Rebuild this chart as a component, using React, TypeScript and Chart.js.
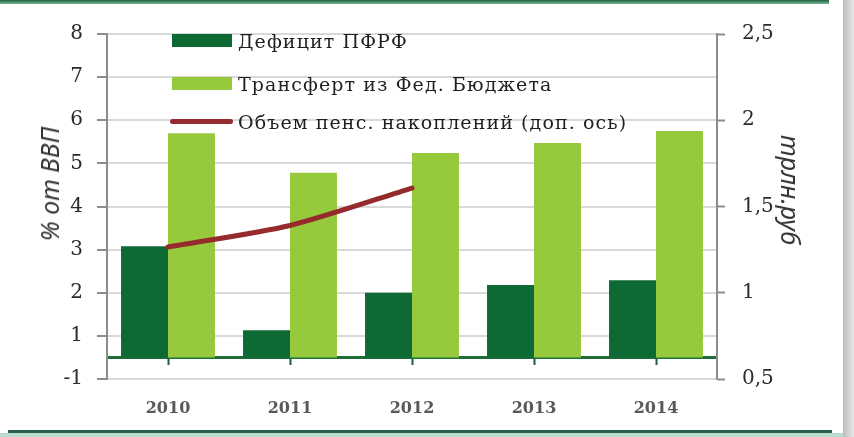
import React, { useEffect, useRef } from 'react';
import { Chart, registerables, LinearScale } from 'chart.js';

const CATEGORIES = ['2010', '2011', '2012', '2013', '2014'];
const DEFICIT = [3.08, 1.13, 2.0, 2.18, 2.29];
const TRANSFER = [5.7, 4.78, 5.24, 5.47, 5.75];
const PENSION_SAVINGS = [1.265, 1.39, 1.607, null, null];
const LEFT_TICKS = [-1, 1, 2, 3, 4, 5, 6, 7, 8];
const RIGHT_TICKS = [0.5, 1, 1.5, 2, 2.5];
const LEGEND_LABELS = ['Дефицит ПФРФ', 'Трансферт из Фед. Бюджета', 'Объем пенс. накоплений (доп. ось)'];
const LEFT_TITLE = '% от ВВП';
const RIGHT_TITLE = 'трлн.руб';

const DARK = '#0d6a34';
const LIGHT = '#97c93c';
const RED = '#962b2e';
const BREAK = 1;

function compress(v: number, min: number) {
  return v >= BREAK ? v - BREAK + 1 : (v - min) / (BREAK - min);
}

class BrokenScale extends LinearScale {
  static id = 'broken';
  static defaults = LinearScale.defaults;
  getPixelForValue(value: any) {
    if (value === null || value === undefined || isNaN(value)) return NaN;
    const min = (this as any).min;
    const max = (this as any).max;
    return this.getPixelForDecimal(compress(value, min) / compress(max, min));
  }
  getValueForPixel(pixel: number) {
    const min = (this as any).min;
    const max = (this as any).max;
    const t = this.getDecimalForPixel(pixel) * compress(max, min);
    return t >= 1 ? t + BREAK - 1 : min + t * (BREAK - min);
  }
}

Chart.register(...registerables, BrokenScale as any);

export default function App() {
  const ref = useRef<HTMLCanvasElement | null>(null);
  useEffect(() => {
    if (!ref.current) return;
    const tickFont = { family: 'DejaVu Serif', size: 20 };
    const chart = new Chart(ref.current, {
      type: 'bar',
      data: {
        labels: CATEGORIES,
        datasets: [
          {
            type: 'line',
            label: LEGEND_LABELS[2],
            data: PENSION_SAVINGS,
            yAxisID: 'y1',
            xAxisID: 'x',
            borderColor: RED,
            borderWidth: 5,
            pointRadius: 0,
            tension: 0.25,
            borderCapStyle: 'round',
            order: 0,
          } as any,
          {
            type: 'bar',
            label: LEGEND_LABELS[0],
            data: DEFICIT,
            yAxisID: 'y',
            xAxisID: 'x',
            backgroundColor: DARK,
            barPercentage: 1,
            categoryPercentage: 0.77,
            order: 1,
          },
          {
            type: 'bar',
            label: LEGEND_LABELS[1],
            data: TRANSFER,
            yAxisID: 'y',
            xAxisID: 'x',
            backgroundColor: LIGHT,
            barPercentage: 1,
            categoryPercentage: 0.77,
            order: 2,
          },
        ],
      },
      options: {
        responsive: false,
        maintainAspectRatio: false,
        animation: false,
        layout: { padding: { top: 34, left: 0, right: 0, bottom: 0 } },
        plugins: { legend: { display: false }, tooltip: { enabled: false } },
        scales: {
          x: {
            type: 'category',
            position: 'bottom',
            grid: { display: false, drawTicks: false },
            border: { display: false },
            ticks: { font: { family: 'DejaVu Serif', size: 16, weight: 'bold' }, color: '#595959', padding: 20 },
            afterFit: (s: any) => { s.height = 58; },
          },
          x2: {
            type: 'category',
            position: { y: 0 } as any,
            offset: true,
            z: 1,
            grid: { drawOnChartArea: false, offset: false, tickLength: 6, tickColor: '#1b5e33', tickWidth: 2 },
            border: { color: '#1e6e3a', width: 3 },
            ticks: { display: false },
          },
          y: {
            type: 'broken' as any,
            position: 'left',
            min: -1,
            max: 8,
            afterBuildTicks: (s: any) => { s.ticks = LEFT_TICKS.map((v) => ({ value: v })); },
            afterFit: (s: any) => { s.width = 107; },
            grid: { color: '#d9d9d9', lineWidth: 2, tickLength: 10, tickColor: '#8c8c8c', tickWidth: 2 },
            border: { color: '#8c8c8c', width: 2 },
            ticks: { font: tickFont, color: '#2b2b2b', padding: 14, callback: (v: any) => String(v) },
          } as any,
          y1: {
            type: 'linear',
            position: 'right',
            min: 0.5,
            max: 2.5,
            afterBuildTicks: (s: any) => { s.ticks = RIGHT_TICKS.map((v) => ({ value: v })); },
            afterFit: (s: any) => { s.width = 137; },
            grid: { drawOnChartArea: false, tickLength: 8, tickColor: '#8c8c8c', tickWidth: 2 },
            border: { color: '#8c8c8c', width: 2 },
            ticks: { font: tickFont, color: '#2b2b2b', padding: 17, callback: (v: any) => String(v).replace('.', ',') },
          },
        },
      } as any,
    });
    return () => chart.destroy();
  }, []);

  const legendText: React.CSSProperties = {
    position: 'absolute',
    left: 238,
    height: 24,
    lineHeight: '24px',
    fontFamily: 'DejaVu Serif',
    fontSize: 19,
    letterSpacing: '1.1px',
    color: '#1f1f1f',
    whiteSpace: 'nowrap',
  };
  const title: React.CSSProperties = {
    position: 'absolute',
    fontFamily: 'Noto Sans',
    fontStyle: 'italic',
    fontSize: 25,
    color: '#333333',
    whiteSpace: 'nowrap',
    lineHeight: '30px',
  };

  return (
    <div style={{ position: 'absolute', left: 0, top: 0, width: 854, height: 437, background: '#ffffff', overflow: 'hidden' }}>
      <div style={{ position: 'absolute', left: 0, top: 0, width: 829, height: 4, background: 'linear-gradient(#1f5f3f, #7ab894)' }} />
      <div style={{ position: 'absolute', left: 843, top: 0, width: 11, height: 437, background: 'linear-gradient(to right, #bdbdbd, #e8e8e8)' }} />
      <div style={{ position: 'absolute', left: 8, top: 430, width: 824, height: 3, background: '#2a5f4a' }} />
      <div style={{ position: 'absolute', left: 0, top: 433, width: 843, height: 4, background: '#b9dccf' }} />
      <canvas ref={ref} width={854} height={437} style={{ position: 'absolute', left: 0, top: 0, width: 854, height: 437 }} />
      <div style={{ position: 'absolute', left: 172, top: 34, width: 60, height: 13, background: DARK }} />
      <div style={{ ...legendText, top: 29 }}>{LEGEND_LABELS[0]}</div>
      <div style={{ position: 'absolute', left: 172, top: 77, width: 60, height: 13, background: LIGHT }} />
      <div style={{ ...legendText, top: 72 }}>{LEGEND_LABELS[1]}</div>
      <div style={{ position: 'absolute', left: 170, top: 119, width: 63, height: 5, borderRadius: 3, background: RED }} />
      <div style={{ ...legendText, top: 110 }}>{LEGEND_LABELS[2]}</div>
      <div style={{ ...title, left: 49, top: 184, transform: 'translate(-50%, -50%) rotate(-90deg)' }}>{LEFT_TITLE}</div>
      <div style={{ ...title, left: 791, top: 190, transform: 'translate(-50%, -50%) rotate(90deg)' }}>{RIGHT_TITLE}</div>
    </div>
  );
}
